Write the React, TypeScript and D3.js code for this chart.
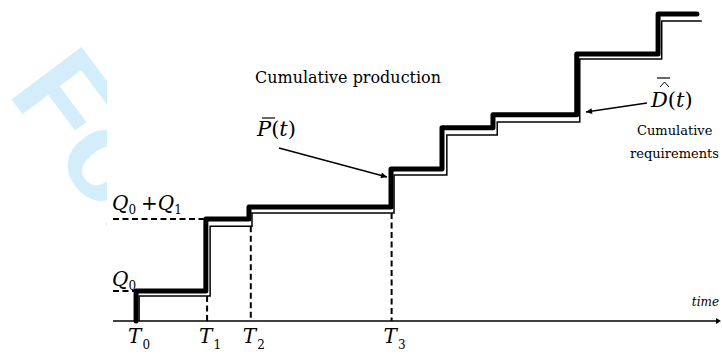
import React, { useEffect, useRef } from 'react';
import * as d3 from 'd3';

// step times (x units) and cumulative levels (y units)
const prodTimes = [3.8, 15.3, 22.4, 45.8, 54.2, 62.6, 76.4, 89.8];
const prodLevels = [0, 9.7, 32.9, 36.8, 49.0, 62.3, 66.5, 86.1, 99.0];
const prodEnd = 96.2;

const reqTimes = [4.3, 16.0, 22.9, 46.3, 55.0, 63.3, 76.9, 90.4];
const reqLevels = [0, 8.1, 30.6, 34.8, 47.1, 60.0, 64.2, 84.5, 96.8];
const reqEnd = 97.0;

const markTimes = [3.8, 15.5, 22.7, 45.9];
const markLabels = ['0', '1', '2', '3'];

const W = 722;
const H = 356;
const SERIF = 'DejaVu Serif';

const stepPoints = (times: number[], levels: number[], end: number) => {
  const pts: [number, number][] = [[times[0], levels[0]]];
  times.forEach((t, i) => pts.push([t, levels[i + 1]]));
  pts.push([end, levels[levels.length - 1]]);
  return pts;
};

const App = () => {
  const svgRef = useRef<SVGSVGElement>(null);

  useEffect(() => {
    const svg = d3.select(svgRef.current);
    svg.selectAll('*').remove();

    const x = d3.scaleLinear().domain([0, 100]).range([113, 720]);
    const y = d3.scaleLinear().domain([0, 100]).range([321, 11]);

    const defs = svg.append('defs');
    defs.append('clipPath').attr('id', 'wm-clip')
      .append('rect').attr('x', 0).attr('y', 0).attr('width', 107).attr('height', H);
    defs.append('marker')
      .attr('id', 'arrow')
      .attr('viewBox', '0 0 10 10')
      .attr('refX', 10).attr('refY', 5)
      .attr('markerWidth', 9).attr('markerHeight', 6)
      .attr('markerUnits', 'userSpaceOnUse')
      .attr('orient', 'auto')
      .append('path').attr('d', 'M0,0L10,5L0,10z').attr('fill', '#000');

    svg.append('rect').attr('width', W).attr('height', H).attr('fill', '#fff');

    // watermark
    svg.append('g').attr('clip-path', 'url(#wm-clip)')
      .append('text')
      .attr('transform', 'translate(6.6,92.8) rotate(53)')
      .attr('font-family', 'Liberation Sans, Arial, DejaVu Sans')
      .attr('font-weight', 'bold')
      .attr('font-size', 127)
      .attr('fill', '#d3eefa')
      .text('For');

    const txt = (xx: number, yy: number, size: number) =>
      svg.append('text').attr('x', xx).attr('y', yy)
        .attr('font-family', SERIF).attr('font-size', size);

    // axis
    svg.append('line')
      .attr('x1', x(0)).attr('x2', x(100) - 3)
      .attr('y1', y(0)).attr('y2', y(0))
      .attr('stroke', '#000').attr('stroke-width', 1.5);
    svg.append('path')
      .attr('d', `M${x(100) - 4},${y(0) - 3}L${x(100) + 1},${y(0)}L${x(100) - 4},${y(0) + 3}z`)
      .attr('fill', '#000');
    txt(719, 306, 12).attr('text-anchor', 'end').attr('font-style', 'italic').text('time');

    // dashed guides
    const dash = svg.append('g')
      .attr('stroke', '#000').attr('stroke-width', 2).attr('stroke-dasharray', '6,3.5').attr('fill', 'none');
    [1, 2].forEach(k => {
      dash.append('line')
        .attr('x1', x(0)).attr('x2', x(prodTimes[k - 1]) - 2)
        .attr('y1', y(prodLevels[k])).attr('y2', y(prodLevels[k]));
    });
    [1, 2, 3].forEach(k => {
      dash.append('line')
        .attr('x1', x(markTimes[k])).attr('x2', x(markTimes[k]))
        .attr('y1', y(reqLevels[k])).attr('y2', y(0));
    });

    const line = d3.line<[number, number]>()
      .x(d => x(d[0]))
      .y(d => y(d[1]))
      .curve(d3.curveStepAfter);

    svg.append('path')
      .attr('d', line(stepPoints(reqTimes, reqLevels, reqEnd)))
      .attr('fill', 'none').attr('stroke', '#000').attr('stroke-width', 1.5);

    svg.append('path')
      .attr('d', line(stepPoints(prodTimes, prodLevels, prodEnd)))
      .attr('fill', 'none').attr('stroke', '#000').attr('stroke-width', 5)
      .attr('stroke-linejoin', 'round').attr('stroke-linecap', 'round');

    // T labels
    markTimes.forEach((t, i) => {
      const tx = txt(x(t) - 8, 343, 20);
      tx.append('tspan').attr('font-style', 'italic').text('T');
      tx.append('tspan').attr('font-size', 12).attr('dy', 6).attr('dx', 1).text(markLabels[i]);
    });

    // Q labels
    const q0 = txt(112, 286, 20);
    q0.append('tspan').attr('font-style', 'italic').text('Q');
    q0.append('tspan').attr('font-size', 12).attr('dy', 4).text('0');

    const q01 = txt(112, 210, 20);
    q01.append('tspan').attr('font-style', 'italic').text('Q');
    q01.append('tspan').attr('font-size', 12).attr('dy', 4).text('0');
    q01.append('tspan').attr('dy', -4).attr('dx', 5).text('+');
    q01.append('tspan').attr('font-style', 'italic').text('Q');
    q01.append('tspan').attr('font-size', 12).attr('dy', 4).text('1');

    // production label
    txt(255, 83, 17).attr('textLength', 186).attr('lengthAdjust', 'spacingAndGlyphs')
      .text('Cumulative production');
    const p = txt(257, 136, 21);
    p.append('tspan').attr('font-style', 'italic').text('P');
    p.append('tspan').text('(');
    p.append('tspan').attr('font-style', 'italic').text('t');
    p.append('tspan').text(')');
    svg.append('line')
      .attr('x1', 262).attr('x2', 275).attr('y1', 118).attr('y2', 118)
      .attr('stroke', '#000').attr('stroke-width', 1.2);
    svg.append('line')
      .attr('x1', 279).attr('y1', 148).attr('x2', 387).attr('y2', 177)
      .attr('stroke', '#000').attr('stroke-width', 1.3).attr('marker-end', 'url(#arrow)');

    // requirements label
    const dl = txt(651, 107, 21);
    dl.append('tspan').attr('font-style', 'italic').text('D');
    dl.append('tspan').text('(');
    dl.append('tspan').attr('font-style', 'italic').text('t');
    dl.append('tspan').text(')');
    svg.append('line')
      .attr('x1', 657).attr('x2', 670).attr('y1', 78).attr('y2', 78)
      .attr('stroke', '#000').attr('stroke-width', 1.2);
    svg.append('path')
      .attr('d', 'M660,87L664.5,82L669,87')
      .attr('fill', 'none').attr('stroke', '#000').attr('stroke-width', 1);
    svg.append('line')
      .attr('x1', 647).attr('y1', 103).attr('x2', 586).attr('y2', 112)
      .attr('stroke', '#000').attr('stroke-width', 1.3).attr('marker-end', 'url(#arrow)');
    txt(637, 135, 13).text('Cumulative');
    txt(630, 158, 13).text('requirements');
  }, []);

  return (
    <svg ref={svgRef} width={W} height={H} style={{ position: 'absolute', left: 0, top: 0 }} />
  );
};

export default App;
